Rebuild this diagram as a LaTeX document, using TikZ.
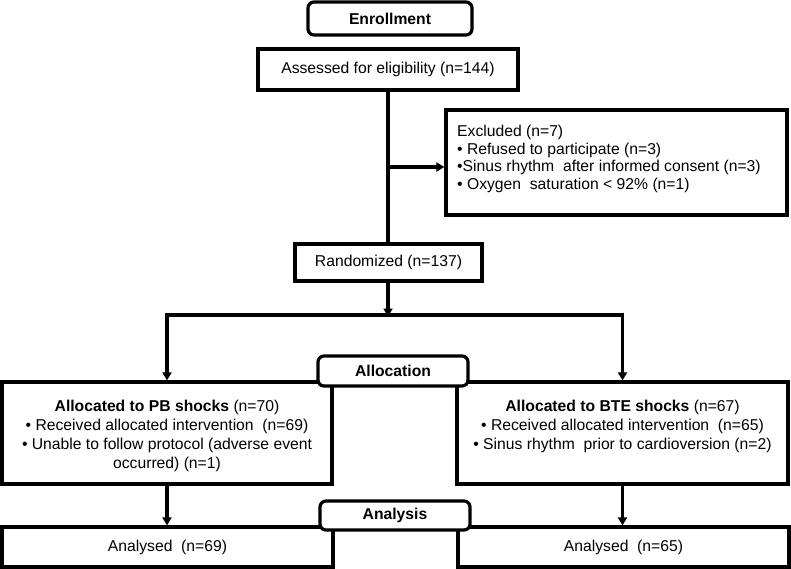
\documentclass[tikz,border=0pt]{standalone}
\usepackage{fontspec}
\setmainfont{Liberation Sans}
\usetikzlibrary{arrows.meta}
\begin{document}
\begin{tikzpicture}[x=1pt,y=-1pt,
  box/.style={draw, line width=3.2pt, inner sep=0pt, fill=white, font=\fontsize{15.7pt}{19pt}\selectfont},
  rbox/.style={box, rounded corners=6pt, font=\fontsize{15.7pt}{19pt}\selectfont\bfseries},
  txt/.style={inner sep=0pt, font=\fontsize{15.7pt}{19pt}\selectfont},
  tip/.tip={Triangle[width=9pt,length=8pt]},
  arr/.style={line width=3.2pt, -tip},
  ln/.style={line width=3.2pt}]
\useasboundingbox (0,0) rectangle (791,568);

\node[rbox, minimum width=164pt, minimum height=33pt] (enroll) at (390,18.5) {Enrollment};
\node[box, minimum width=260pt, minimum height=41pt] (assess) at (388,69.5) {Assessed for eligibility (n=144)};
\node[box, minimum width=341pt, minimum height=105pt] (excl) at (616.5,162.5) {};
\node[txt, anchor=north west, align=left, font=\fontsize{15.7pt}{17.7pt}\selectfont] (excltxt) at (457,125)
  {Excluded (n=7)\\
   • Refused to participate (n=3)\\
   •Sinus rhythm\ \ after informed consent (n=3)\\
   • Oxygen\ \ saturation < 92\% (n=1)};
\node[box, minimum width=187pt, minimum height=37pt] (rand) at (388.5,262.5) {Randomized (n=137)};

\node[box, minimum width=330pt, minimum height=102pt] (pb) at (167,433) {};
\node[box, minimum width=331pt, minimum height=102pt] (bte) at (622.5,433) {};
\node[txt, anchor=north, align=center] (pbtxt) at (167,400)
  {{\bfseries Allocated to PB shocks} (n=70)\\
   • Received allocated intervention\ \ (n=69)\\
   • Unable to follow protocol (adverse event\\
   occurred) (n=1)};
\node[txt, anchor=north, align=center] (btetxt) at (622.5,400)
  {{\bfseries Allocated to BTE shocks} (n=67)\\
   • Received allocated intervention\ \ (n=65)\\
   • Sinus rhythm\ \ prior to cardioversion (n=2)};
\node[rbox, minimum width=150pt, minimum height=30pt] (alloc) at (393,371) {Allocation};

\node[box, minimum width=331pt, minimum height=40pt] (an1) at (167.5,547) {Analysed\ \ (n=69)};
\node[box, minimum width=331pt, minimum height=40pt] (an2) at (623.5,547) {Analysed\ \ (n=65)};
\node[rbox, minimum width=150pt, minimum height=29pt] (analysis) at (395,515.5) {Analysis};

\coordinate (ex) at (388,167);
\coordinate (split) at (388,315);
\draw[ln] (assess.south) -- (assess.south |- rand.north);
\draw[arr] (ex) -- (ex -| excl.west);
\draw[arr] (rand.south -| split) -- ([yshift=-1.5pt]split);
\draw[ln, tip-tip] (pb.north) -- (pb.north |- split) -- (bte.north |- split) -- (bte.north);
\draw[arr] (pb.south) -- (an1.north -| pb.south);
\draw[arr] (bte.south) -- (an2.north -| bte.south);
\end{tikzpicture}
\end{document}
